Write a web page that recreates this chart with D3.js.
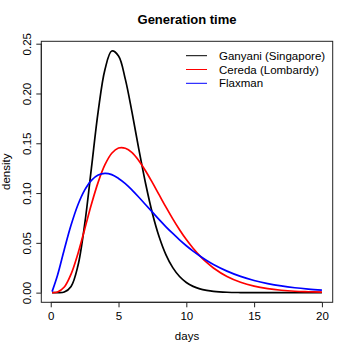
<!DOCTYPE html>
<html lang="en">
    <head>
        <meta charset="utf-8">
        <script type="text/javascript" src="https://d3js.org/d3.v7.min.js"></script>
        <style>
          body { margin: 0; background: #fff; }
          text { font-family: "Liberation Sans", Arial, Helvetica, sans-serif; fill: #000; }
        </style>
    </head>
    <body>
        <div id="chart"></div>
        <script type="text/javascript">
        var days = [0.1, 0.5, 1, 1.5, 2, 2.5, 3, 3.5, 4, 4.5, 5, 5.5, 6, 6.5, 7, 7.5, 8, 8.5, 9, 9.5,
                    10, 10.5, 11, 11.5, 12, 13, 14, 15, 16, 17, 18, 19, 20];

        var ganyani = [0, 0, 0.0006, 0.0062, 0.0267, 0.0683, 0.125, 0.182, 0.224, 0.2427,
                       0.2377, 0.2144, 0.1807, 0.1438, 0.1093, 0.0795, 0.0559, 0.038, 0.0251, 0.0162,
                       0.0102, 0.0063, 0.0038, 0.0023, 0.0013, 0.0004, 0.0001, 0, 0, 0, 0, 0, 0];

        var cereda = [0, 0.0006, 0.0056, 0.0186, 0.0389, 0.0635, 0.0887, 0.111, 0.1285, 0.14,
                      0.1452, 0.1450, 0.1406, 0.1325, 0.1222, 0.1104, 0.0981, 0.0858, 0.0741, 0.0632,
                      0.0533, 0.0446, 0.037, 0.0303, 0.0248, 0.0162, 0.0104, 0.0065, 0.004, 0.0024,
                      0.0014, 0.0009, 0.0005];

        var flaxman = [0.001, 0.0174, 0.0433, 0.0678, 0.088, 0.1029, 0.1128, 0.1181, 0.1198, 0.1185,
                       0.1147, 0.1095, 0.103, 0.0958, 0.0883, 0.0808, 0.0733, 0.0661, 0.0594, 0.053,
                       0.0471, 0.0417, 0.0368, 0.0323, 0.0283, 0.0216, 0.0163, 0.0122, 0.0091, 0.0067,
                       0.0049, 0.0036, 0.0026];

        var seriesNames = ["Ganyani (Singapore)", "Cereda (Lombardy)", "Flaxman"];
        var seriesColors = ["#000000", "#ff0000", "#0000ff"];
        var xTicks = [0, 5, 10, 15, 20];
        var yTicks = [0, 0.05, 0.1, 0.15, 0.2, 0.25];

        var series = [ganyani, cereda, flaxman];

        // canvas, R style margins
        var W = 354, H = 354;
        var margin = { top: 41.3, right: 21.3, bottom: 51.7, left: 41.3 };
        var fontSize = 11.5;

        var svg = d3.select("#chart").append("svg")
          .attr("width", W)
          .attr("height", H);

        // R pads the data range by 4% on each side
        function pad(ext) {
          var d = (ext[1] - ext[0]) * 0.04;
          return [ext[0] - d, ext[1] + d];
        }
        var allY = d3.merge(series);

        var x = d3.scaleLinear()
          .domain(pad(d3.extent(days)))
          .range([margin.left, W - margin.right]);

        var y = d3.scaleLinear()
          .domain(pad([d3.min(allY), d3.max(allY)]))
          .range([H - margin.bottom, margin.top]);

        // curves
        var line = d3.line()
          .x(function(d, i){ return x(days[i]); })
          .y(function(d){ return y(d); })
          .curve(d3.curveCatmullRom.alpha(0.5));

        svg.append("g")
          .selectAll("path")
          .data(series)
          .enter().append("path")
            .attr("d", line)
            .style("fill", "none")
            .style("stroke", function(d, i){ return seriesColors[i]; })
            .style("stroke-width", 1.7);

        // box
        svg.append("rect")
          .attr("x", margin.left)
          .attr("y", margin.top)
          .attr("width", W - margin.left - margin.right)
          .attr("height", H - margin.top - margin.bottom)
          .style("fill", "none")
          .style("stroke", "#222")
          .style("stroke-width", 1);

        // x axis
        var xAxis = d3.axisBottom(x)
          .tickValues(xTicks)
          .tickSize(5)
          .tickPadding(4.5)
          .tickFormat(d3.format("d"));
        var xGuide = svg.append("g")
          .attr("transform", "translate(0," + (H - margin.bottom) + ")")
          .call(xAxis);
        xGuide.select(".domain")
          .attr("d", "M" + x(xTicks[0]) + ",0H" + x(xTicks[xTicks.length - 1]));
        xGuide.selectAll("path, line").style("stroke", "#222");
        xGuide.selectAll("text")
          .style("font-size", fontSize + "px")
          .style("font-family", '"Liberation Sans", Arial, sans-serif');

        // y axis, labels parallel to the axis
        var yAxis = d3.axisLeft(y)
          .tickValues(yTicks)
          .tickSize(5)
          .tickFormat(d3.format(".2f"));
        var yGuide = svg.append("g")
          .attr("transform", "translate(" + margin.left + ",0)")
          .call(yAxis);
        yGuide.select(".domain")
          .attr("d", "M0," + y(yTicks[0]) + "V" + y(yTicks[yTicks.length - 1]));
        yGuide.selectAll("path, line").style("stroke", "#222");
        yGuide.selectAll("text")
          .attr("x", 0)
          .attr("y", 0)
          .attr("dy", null)
          .attr("transform", "translate(-10,0) rotate(-90)")
          .attr("text-anchor", "middle")
          .style("font-size", fontSize + "px")
          .style("font-family", '"Liberation Sans", Arial, sans-serif');

        // titles
        var cx = (margin.left + W - margin.right) / 2;
        svg.append("text")
          .attr("x", cx)
          .attr("y", 24)
          .attr("text-anchor", "middle")
          .style("font-size", "13px")
          .style("font-weight", "bold")
          .text("Generation time");

        svg.append("text")
          .attr("x", cx)
          .attr("y", 339.5)
          .attr("text-anchor", "middle")
          .style("font-size", fontSize + "px")
          .text("days");

        svg.append("text")
          .attr("transform", "translate(9.5," + ((margin.top + H - margin.bottom) / 2) + ") rotate(-90)")
          .attr("text-anchor", "middle")
          .style("font-size", fontSize + "px")
          .text("density");

        // legend, top right, no box
        var legend = svg.append("g")
          .selectAll("g")
          .data(seriesNames)
          .enter().append("g")
            .attr("transform", function(d, i){ return "translate(186," + (55.7 + i * 13.8) + ")"; });
        legend.append("line")
          .attr("x1", 0).attr("x2", 21)
          .attr("y1", 0).attr("y2", 0)
          .style("stroke", function(d, i){ return seriesColors[i]; })
          .style("stroke-width", 1);
        legend.append("text")
          .attr("x", 33)
          .attr("dy", "0.35em")
          .style("font-size", fontSize + "px")
          .text(function(d){ return d; });
        </script>
    </body>
</html>
